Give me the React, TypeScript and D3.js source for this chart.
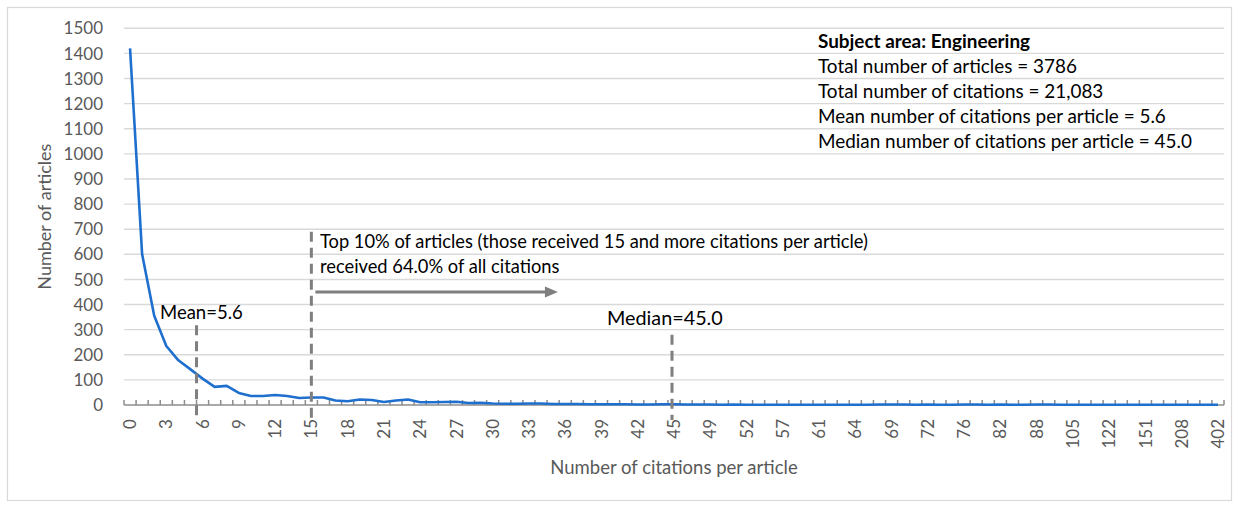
import React from 'react';
import * as d3 from 'd3';

// citation counts (x categories) – Excel category axis, only existing values after 45
const citations: number[] = [
  0, 1, 2, 3, 4, 5, 6, 7, 8, 9, 10, 11, 12, 13, 14, 15, 16, 17, 18, 19, 20, 21, 22,
  23, 24, 25, 26, 27, 28, 29, 30, 31, 32, 33, 34, 35, 36, 37, 38, 39, 40, 41, 42, 43,
  44, 45, 46, 47, 49, 50, 51, 52, 53, 55, 57, 58, 59, 61, 62, 63, 64, 65, 67, 69, 70,
  71, 72, 73, 74, 76, 78, 80, 82, 84, 86, 88, 92, 98, 105, 110, 115, 122, 130, 140,
  151, 165, 180, 208, 250, 300, 402,
];

// number of articles for each citation count
const articles: number[] = [
  1420, 600, 355, 235, 178, 142, 105, 72, 76, 48, 36, 36, 40, 36, 28, 30, 30, 18, 15,
  22, 20, 12, 18, 22, 11, 11, 12, 13, 8, 9, 6, 5, 5, 6, 6, 4, 4, 4, 3, 3, 3, 3, 2, 2,
  3, 3, 2, 2, 2, 1, 2, 1, 1, 1, 1, 1, 1, 1, 1, 1, 1, 1, 2, 2, 2, 1, 2, 1, 1, 2, 2, 1,
  2, 1, 1, 2, 2, 1, 1, 1, 1, 1, 1, 1, 1, 1, 1, 1, 1, 1, 1,
];

const yTicks: number[] = [0, 100, 200, 300, 400, 500, 600, 700, 800, 900, 1000, 1100, 1200, 1300, 1400, 1500];

const infoLines: string[] = [
  'Subject area: Engineering',
  'Total number of articles = 3786',
  'Total number of citations = 21,083',
  'Mean number of citations per article = 5.6',
  'Median number of citations per article = 45.0',
];

const meanValue = 5.6;
const topIndex = 15;
const medianIndex = 45;

const W = 1239;
const H = 507;
const margin = { top: 28.3, right: 15, bottom: 102, left: 124 };
const FONT = 'Lato, "Open Sans", sans-serif';

export default function App() {
  const plotRight = W - margin.right;
  const plotBottom = H - margin.bottom;

  const n = citations.length;
  // index scale: category i centred at i + 0.5
  const xi = d3.scaleLinear().domain([0, n]).range([margin.left, plotRight]);
  const xc = (i: number) => xi(i + 0.5);
  const y = d3.scaleLinear().domain([0, 1500]).range([plotBottom, margin.top]);

  const line = d3
    .line<number>()
    .x((_, i) => xc(i))
    .y((d) => y(d));

  const grey = '#7f7f7f';
  const xAxisTitleY = H - 33;

  const arrowY = y(450);
  const arrowX0 = xc(topIndex) + 4;
  const arrowX1 = xc(35.4);

  return (
    <svg
      width={W}
      height={H}
      style={{ position: 'absolute', left: 0, top: 0, background: '#fff' }}
      fontFamily={FONT}
    >
      <rect x={7.5} y={7.5} width={1224} height={493} fill="#fff" stroke="#d9d9d9" strokeWidth={1.2} />

      {/* gridlines */}
      {yTicks.filter((t) => t > 0).map((t) => (
        <line key={t} x1={margin.left} x2={plotRight} y1={y(t)} y2={y(t)} stroke="#d9d9d9" strokeWidth={1.4} />
      ))}

      {/* y tick labels */}
      {yTicks.map((t) => (
        <text key={t} x={103} y={y(t)} dy="0.36em" textAnchor="end" fontSize={17} fill="#595959">
          {t}
        </text>
      ))}

      {/* x axis */}
      <line x1={margin.left} x2={plotRight} y1={plotBottom} y2={plotBottom} stroke="#8c8c8c" strokeWidth={1.5} />
      {d3.range(n + 1).map((i) => (
        <line key={i} x1={xi(i)} x2={xi(i)} y1={plotBottom} y2={plotBottom - 5} stroke="#8c8c8c" strokeWidth={1.5} />
      ))}
      {citations.map((c, i) =>
        i % 3 === 0 ? (
          <text
            key={c}
            transform={`translate(${xc(i)},${plotBottom + 14}) rotate(-90)`}
            dy="0.36em"
            textAnchor="end"
            fontSize={17}
            fill="#595959"
          >
            {c}
          </text>
        ) : null
      )}

      {/* axis titles */}
      <text
        transform={`translate(45,${(margin.top + plotBottom) / 2}) rotate(-90)`}
        dy="0.36em"
        textAnchor="middle"
        fontSize={18}
        fill="#595959"
      >
        Number of articles
      </text>
      <text x={xc(medianIndex)} y={xAxisTitleY} textAnchor="middle" fontSize={18.5} fill="#595959">
        Number of citations per article
      </text>

      {/* data line */}
      <path d={line(articles) ?? ''} fill="none" stroke="#1f6fce" strokeWidth={2.6} strokeLinejoin="round" />

      {/* dashed reference lines */}
      <line x1={xi(meanValue + 0.4)} x2={xi(meanValue + 0.4)} y1={y(318)} y2={plotBottom + 15} stroke={grey} strokeWidth={3} strokeDasharray="10 6" />
      <line x1={xc(topIndex)} x2={xc(topIndex)} y1={y(690)} y2={plotBottom + 15} stroke={grey} strokeWidth={3} strokeDasharray="10 6" />
      <line x1={xc(medianIndex) - 2} x2={xc(medianIndex) - 2} y1={y(280)} y2={plotBottom + 15} stroke={grey} strokeWidth={3} strokeDasharray="10 6" />

      {/* arrow */}
      <line x1={arrowX0} x2={arrowX1 - 10} y1={arrowY} y2={arrowY} stroke={grey} strokeWidth={3} />
      <path d={`M${arrowX1},${arrowY} L${arrowX1 - 13},${arrowY - 5.5} L${arrowX1 - 13},${arrowY + 5.5} Z`} fill={grey} />

      {/* annotations */}
      <text x={160} y={319} fontSize={18.5} fill="#000">Mean=5.6</text>
      <text x={320} y={248} fontSize={18.3} fill="#000">
        Top 10% of articles (those received 15 and more citations per article)
      </text>
      <text x={320} y={273} fontSize={18.3} fill="#000">received 64.0% of all citations</text>
      <text x={607} y={325} fontSize={19.8} fill="#000">Median=45.0</text>

      {/* info box */}
      {infoLines.map((s, i) => (
        <text key={s} x={818} y={48 + i * 25.1} fontSize={18.9} fontWeight={i === 0 ? 700 : 400} fill="#000">
          {s}
        </text>
      ))}
    </svg>
  );
}
